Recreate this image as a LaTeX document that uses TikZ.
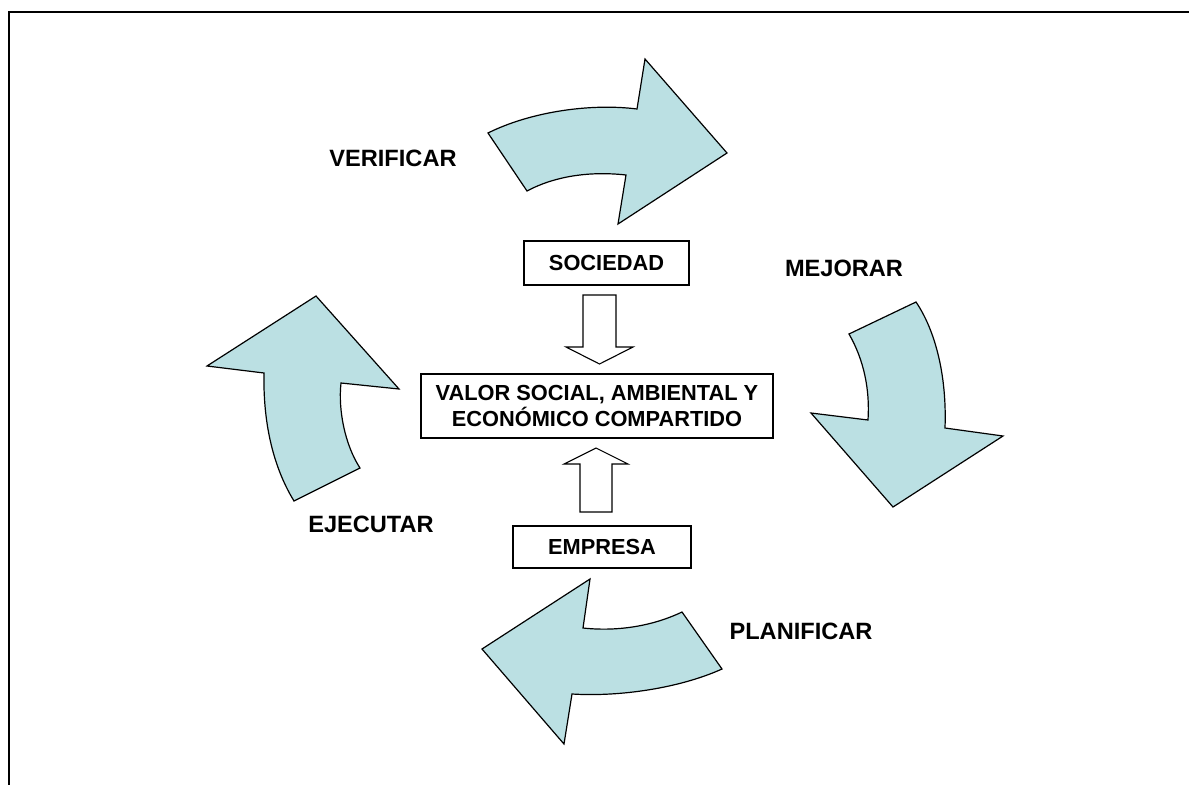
\documentclass[tikz,border=0pt]{standalone}
\usepackage{fontspec}
\setmainfont{Liberation Sans}
\usepackage{xcolor}
\usepackage{tikz}
\usetikzlibrary{calc,positioning}
\definecolor{aquax}{HTML}{BBE0E3}
\tikzset{
  frm/.style={line width=1.6pt,black},
  box/.style={draw,line width=1.2pt,align=center,inner sep=0pt,font=\fontsize{21.8}{25.5}\selectfont\bfseries},
  lbl/.style={font=\fontsize{23.6}{27}\selectfont\bfseries},
  cyc/.style={draw,line width=1.2pt,fill=aquax,line join=miter},
  blk/.style={draw,line width=1.1pt,fill=white}
}
\begin{document}
\begin{tikzpicture}[x=1pt,y=-1pt]
\useasboundingbox (0,0) rectangle (1189,785);
% frame
\draw[frm] (1189,12) -- (9,12) -- (9,785);
% boxes
\node[box,minimum width=165pt,minimum height=44pt] (soc) at (606.5,263) {SOCIEDAD};
\node[box,minimum width=352pt,minimum height=64pt] (valor) at (597,406) {VALOR SOCIAL, AMBIENTAL Y\\ECONÓMICO COMPARTIDO};
\node[box,minimum width=178pt,minimum height=42pt] (emp) at (602,547) {EMPRESA};
% hollow arrows into the middle box
\draw[blk] (583,295) -- (616,295) -- (616,347) -- (633,347) -- (599.5,364) -- (566,347) -- (583,347) -- cycle;
\draw[blk] (580,512) -- (612,512) -- (612,464) -- (628,464) -- (596,448) -- (564,464) -- (580,464) -- cycle;
% the four curved arrows
\draw[cyc] (488,133) .. controls (530,112) and (590,103) .. (637,109) -- (645,59) -- (727,153)
  -- (618,224) -- (626,175) .. controls (590,171) and (555,176) .. (527,191) -- cycle;
\draw[cyc] (916,302) .. controls (935,330) and (947,375) .. (945,428) -- (1003,436) -- (893,507)
  -- (811,413) -- (868,420) .. controls (870,390) and (864,360) .. (849,334) -- cycle;
\draw[cyc] (682,612) -- (722,669) .. controls (680,688) and (620,697) .. (572,694) -- (564,744)
  -- (482,649) -- (590,579) -- (583,628) .. controls (620,632) and (655,625) .. (682,612) -- cycle;
\draw[cyc] (316,296) -- (399,389) -- (341,383) .. controls (338,410) and (345,445) .. (360,468)
  -- (294,501) .. controls (272,465) and (263,420) .. (264,373) -- (207,366) -- cycle;
% step labels
\node[lbl] (verif) at (393,158) {VERIFICAR};
\node[lbl] (mejor) at (844,268) {MEJORAR};
\node[lbl] (ejec) at (371,524) {EJECUTAR};
\node[lbl] (plan) at (801,631) {PLANIFICAR};
\end{tikzpicture}
\end{document}
